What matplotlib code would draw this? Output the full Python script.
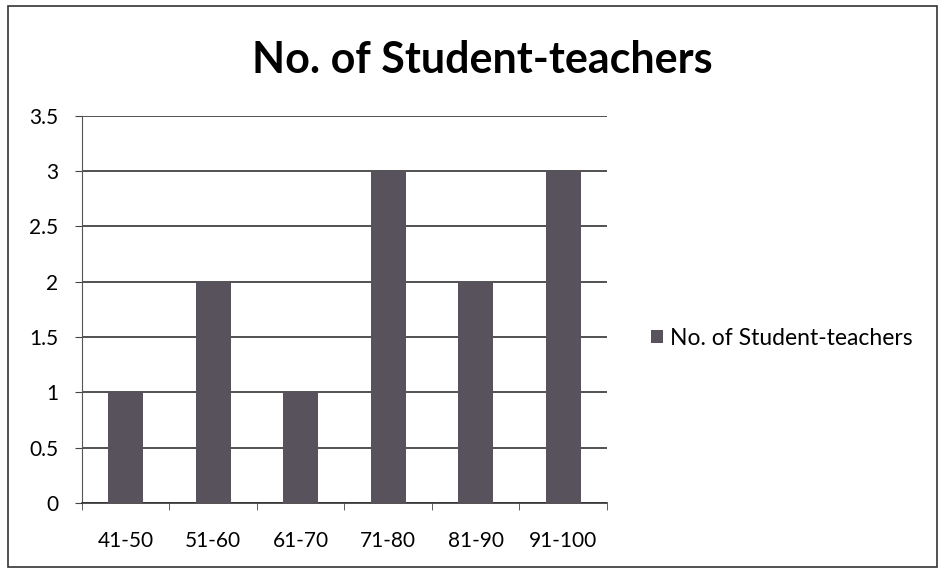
import numpy as np
import matplotlib.pyplot as plt
from matplotlib.patches import Rectangle

# score ranges and number of student-teachers in each
ranges = ['41-50', '51-60', '61-70', '71-80', '81-90', '91-100']
counts = [1, 2, 1, 3, 2, 3]
series_name = 'No. of Student-teachers'

plt.rcParams['font.family'] = ['Lato', 'DejaVu Sans']

fig = plt.figure(figsize=(9.41, 5.73), dpi=100)
ax = fig.add_axes([0.087, 0.122, 0.558, 0.676])

x = np.arange(len(ranges))
ax.bar(x, counts, width=0.4, color='#58525c', label=series_name, zorder=3)

ax.set_xlim(-0.5, len(ranges) - 0.5)
ax.set_ylim(0, 3.5)
ax.set_yticks(np.arange(0, 3.51, 0.5))
ax.set_yticklabels(['0', '0.5', '1', '1.5', '2', '2.5', '3', '3.5'])
ax.set_xticks(x)
ax.set_xticklabels(ranges)
ax.set_xticks(np.arange(-0.5, len(ranges)), minor=True)
ax.tick_params(axis='x', which='major', length=0, pad=20, labelsize=15)
ax.tick_params(axis='x', which='minor', length=5, color='#444444')
ax.tick_params(axis='y', length=5, pad=12, labelsize=15, color='#444444')

ax.grid(True, axis='y', color='#333333', linewidth=1.2, zorder=0)
for s in ['top', 'right']:
    ax.spines[s].set_visible(False)
ax.spines['left'].set_color('#555555')
ax.spines['bottom'].set_color('#333333')
ax.spines['bottom'].set_linewidth(1.2)

fig.suptitle(series_name, x=0.513, y=0.93, fontsize=31, fontweight='bold')

ax.legend(loc='center left', bbox_to_anchor=(1.045, 0.425), frameon=False,
          fontsize=16.5, handlelength=0.5, handleheight=0.5, handletextpad=0.3)

# outer chart border
fig.patches.append(Rectangle((0.009, 0.01), 0.987, 0.98, transform=fig.transFigure,
                             fill=False, edgecolor='#333333', linewidth=1.2))

fig.savefig('out.png', dpi=100)
